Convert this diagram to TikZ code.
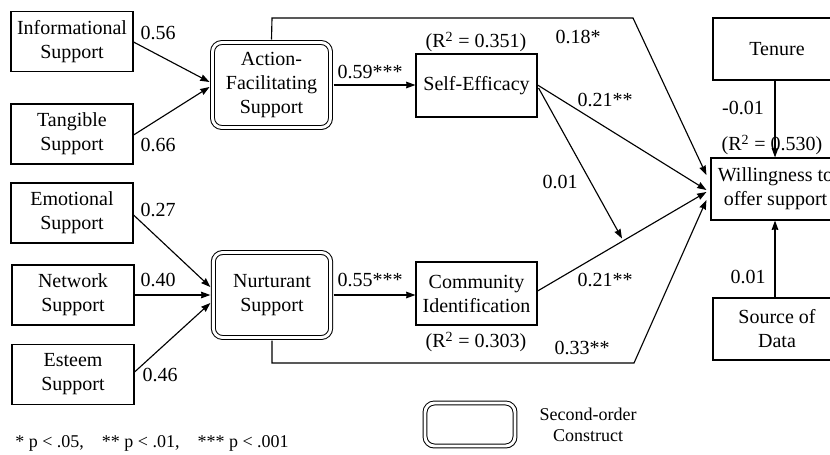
\documentclass[tikz,border=0pt]{standalone}
\usepackage{fontspec}
\setmainfont{Liberation Serif}
\usetikzlibrary{arrows.meta,calc}
\begin{document}
\begin{tikzpicture}[x=0.75pt,y=-0.75pt,
  every node/.style={font=\fontsize{15}{18}\selectfont},
  obs/.style={draw,line width=0.85pt,align=center,inner sep=0pt,minimum width=91.5pt,minimum height=45pt},
  latent/.style={draw,line width=0.75pt,double,double distance=2.2pt,rounded corners=7pt,align=center,inner sep=0pt},
  lbl/.style={inner sep=0pt,anchor=center},
  arr/.style={line width=0.85pt,-{Stealth[length=7pt,width=5pt,inset=0.5pt]}},
  ln/.style={line width=0.85pt}]
\useasboundingbox (0,0) rectangle (830,454);
\clip (0,0) rectangle (830,454);
% observed boxes
\node[obs] (info) at (72,41.5) {Informational\\Support};
\node[obs] (tang) at (72,134) {Tangible\\Support};
\node[obs] (emo) at (72,213) {Emotional\\Support};
\node[obs] (net) at (73,295) {Network\\Support};
\node[obs] (est) at (73,374.5) {Esteem\\Support};
% second-order constructs
\node[latent,minimum width=88.5pt,minimum height=63.75pt] (afs) at (271.5,85) {Action-\\Facilitating\\Support};
\node[latent,minimum width=88pt,minimum height=63.75pt] (nur) at (272,295) {Nurturant\\Support};
% mediators
\node[obs,minimum width=90.75pt,minimum height=47.25pt] (se) at (476.5,85.5) {Self-Efficacy};
\node[obs,minimum width=90.75pt,minimum height=47.25pt] (ci) at (476.5,293.5) {Community\\Identification};
% right side
\node[obs,minimum width=96pt,minimum height=46.5pt] (ten) at (777,49) {Tenure};
\node[obs,minimum width=96.75pt,minimum height=46.5pt] (will) at (775.5,189) {Willingness to\\offer support};
\node[obs,minimum width=96pt,minimum height=46.5pt] (src) at (777,329) {Source of\\Data};
% legend
\node[latent,minimum width=67.5pt,minimum height=32.25pt] (leg) at (470,424.5) {};
\node[lbl,align=center,font=\fontsize{13.5}{16}\selectfont] (legt) at (588,425) {Second-order\\Construct};
\node[lbl,anchor=west,font=\fontsize{13.5}{16}\selectfont] (foot) at (15,443) {* p {\char"3C} .05,\quad ** p {\char"3C} .01,\quad *** p {\char"3C} .001};
% arrows into constructs
\draw[arr] ($(info.east)+(0,0.5)$) -- ($(afs.west)+(-2.5,-3)$);
\draw[arr] ($(tang.east)+(0,1)$) -- ($(afs.west)+(-2.5,2)$);
\draw[arr] ($(emo.east)+(0,2)$) -- ($(nur.west)+(-2.5,-8)$);
\draw[arr] (net.east) -- ($(nur.west)+(-2.5,0)$);
\draw[arr] ($(est.east)+(0,-2.5)$) -- ($(nur.west)+(-2.5,8)$);
% constructs to mediators
\draw[arr] ($(afs.east)+(2.5,0)$) -- ($(se.west)+(0,-0.5)$);
\draw[arr] ($(nur.east)+(2.5,0)$) -- ($(ci.west)+(0,1.5)$);
% paths to willingness
\coordinate (wA) at ($(will.west)+(-4,-14)$);
\coordinate (wB) at ($(will.west)+(-4,1)$);
\coordinate (wC) at ($(will.west)+(-4,3)$);
\coordinate (wD) at ($(will.west)+(-4,11)$);
\coordinate (ciE) at ($(ci.east)+(0,-2.5)$);
\coordinate (seE) at ($(se.east)+(1,2.5)$);
\coordinate (mid) at ($(ciE)!0.5!(wC)$);
\draw[arr] ($(afs.north)+(0,-2.5)$) -- (272,18) -- (633,18) -- (wA);
\draw[arr] ($(se.east)+(0,-0.5)$) -- (wB);
\draw[arr] (seE) -- ($(mid)+(0,-3)$);
\draw[arr] (ciE) -- (wC);
\draw[arr] ($(nur.south)+(0,2.5)$) -- (272,363) -- (634,363) -- (wD);
\draw[arr] ($(ten.south)+(-2,0)$) -- ($(will.north)+(-0.5,0)$);
\draw[arr] ($(src.north)+(-2,0)$) -- ($(will.south)+(-0.5,0)$);
% labels
\node[lbl] (l1) at (158,33) {0.56};
\node[lbl] (l2) at (158,145) {0.66};
\node[lbl] (l3) at (158,210) {0.27};
\node[lbl] (l4) at (158,280) {0.40};
\node[lbl] (l5) at (160,375) {0.46};
\node[lbl] (l6) at (370,72) {0.59***};
\node[lbl] (l7) at (370,280) {0.55***};
\node[lbl] (r1) at (476,42) {(R\textsuperscript{2} = 0.351)};
\node[lbl] (r2) at (476,342) {(R\textsuperscript{2} = 0.303)};
\node[lbl] (r3) at (772,145) {(R\textsuperscript{2} = 0.530)};
\node[lbl] (l8) at (578,37) {0.18*};
\node[lbl] (l9) at (605,100) {0.21**};
\node[lbl] (l10) at (560,182) {0.01};
\node[lbl] (l11) at (605,280) {0.21**};
\node[lbl] (l12) at (582,348) {0.33**};
\node[lbl] (l13) at (743,108) {-0.01};
\node[lbl] (l14) at (748,277) {0.01};
\end{tikzpicture}
\end{document}
